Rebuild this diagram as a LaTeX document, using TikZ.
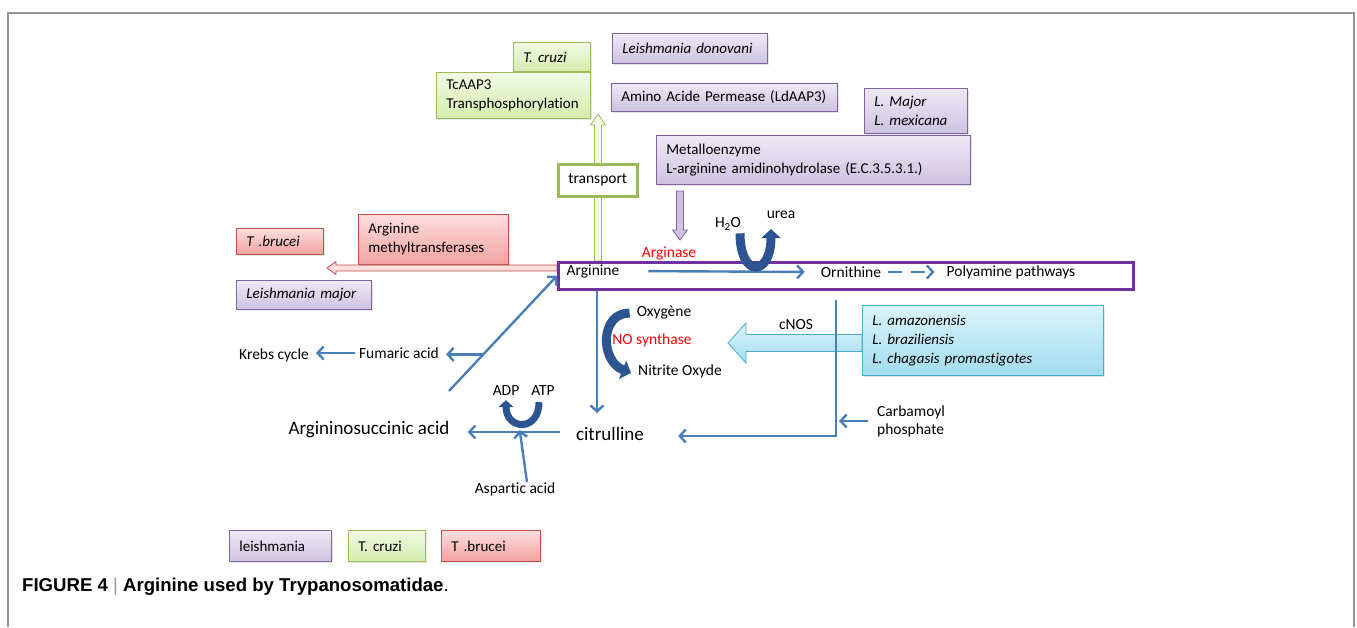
\documentclass[tikz,border=0pt]{standalone}
\usepackage{fontspec}
\setmainfont{Carlito}[Ligatures=NoCommon]
\newfontfamily\capfont{Liberation Sans}
\usepackage{tikz}
\usetikzlibrary{arrows.meta,calc,shadows}

\definecolor{flowblue}{RGB}{74,126,187}
\definecolor{curlblue}{RGB}{44,84,145}
\definecolor{argpurple}{RGB}{112,48,160}
\definecolor{leishdraw}{RGB}{128,100,162}
\definecolor{leishtop}{RGB}{238,233,246}
\definecolor{leishbot}{RGB}{206,194,224}
\definecolor{cruzidraw}{RGB}{155,187,89}
\definecolor{cruzitop}{RGB}{242,250,228}
\definecolor{cruzibot}{RGB}{212,236,174}
\definecolor{bruceidraw}{RGB}{192,80,77}
\definecolor{bruceitop}{RGB}{255,222,222}
\definecolor{bruceibot}{RGB}{242,162,160}
\definecolor{nosdraw}{RGB}{75,172,198}
\definecolor{nostop}{RGB}{218,243,251}
\definecolor{nosbot}{RGB}{162,221,240}
\definecolor{framegray}{RGB}{150,150,150}

\tikzset{
  box/.style={anchor=north west, align=left, inner xsep=10pt, inner ysep=0pt, line width=0.8pt,
    drop shadow={opacity=0.2, shadow xshift=1.5pt, shadow yshift=-1.5pt},
    font=\fontsize{15}{19}\selectfont},
  leish/.style={box, draw=leishdraw, top color=leishtop, bottom color=leishbot},
  cruzi/.style={box, draw=cruzidraw, top color=cruzitop, bottom color=cruzibot},
  brucei/.style={box, draw=bruceidraw, top color=bruceitop, bottom color=bruceibot},
  nos/.style={box, draw=nosdraw, top color=nostop, bottom color=nosbot},
  lbl/.style={font=\fontsize{15.5}{18}\selectfont, inner sep=1pt},
  biglbl/.style={font=\fontsize{19}{22}\selectfont, inner sep=1pt},
  redlbl/.style={inner sep=1pt, text=red, font=\fontsize{15.5}{18}\selectfont},
  flow/.style={draw=flowblue, line width=2.4pt, -{Straight Barb[length=6pt,width=13pt]}},
  curl/.style={draw=curlblue, line width=9pt, -{Triangle[length=9pt,width=19pt]}},
}

\begin{document}
\begin{tikzpicture}[x=1pt,y=-1pt]
\useasboundingbox (0,0) rectangle (1357,627);
\draw[framegray, line width=1.5pt] (8,627) -- (8,13) -- (1354,13) -- (1354,627); % frame

% hollow arrows first, boxes on top
\coordinate (gtail) at (598,261);
\coordinate (gtip) at (598,114);
\draw[cruzidraw, fill=cruzitop, line width=0.8pt] ($(gtail)+(-3.5,0)$) -- ($(gtip)+(-3.5,11)$) -- ($(gtip)+(-7.5,11)$) -- (gtip)
  -- ($(gtip)+(7.5,11)$) -- ($(gtip)+(3.5,11)$) -- ($(gtail)+(3.5,0)$) -- cycle; % transport
\coordinate (ptail) at (680,191);
\coordinate (ptip) at (680,240);
\draw[leishdraw, fill=leishbot, line width=0.8pt] ($(ptail)+(-3.5,0)$) -- ($(ptip)+(-3.5,-10)$) -- ($(ptip)+(-7.5,-10)$) -- (ptip)
  -- ($(ptip)+(7.5,-10)$) -- ($(ptip)+(3.5,-10)$) -- ($(ptail)+(3.5,0)$) -- cycle; % arginase
\coordinate (rtail) at (557,268);
\coordinate (rtip) at (327,268);
\draw[bruceidraw, fill=bruceitop, line width=0.8pt] ($(rtail)+(0,-3)$) -- ($(rtip)+(9,-3)$) -- ($(rtip)+(9,-6.5)$) -- (rtip)
  -- ($(rtip)+(9,6.5)$) -- ($(rtip)+(9,3)$) -- ($(rtail)+(0,3)$) -- cycle; % methyltransferases
\coordinate (ctail) at (862,343);
\coordinate (ctip) at (728,343);
\draw[nosdraw, top color=nostop, bottom color=nosbot, line width=0.8pt] ($(ctail)+(0,-8.5)$) -- ($(ctip)+(18,-8.5)$) -- ($(ctip)+(18,-20)$) -- (ctip)
  -- ($(ctip)+(18,20)$) -- ($(ctip)+(18,8.5)$) -- ($(ctail)+(0,8.5)$) -- cycle; % cNOS

% boxes
\node[cruzi, text width=57, minimum height=29] (tcruzitop) at (513,42) {\textit{T. cruzi}};
\node[cruzi, text width=134, minimum height=46] (tcaap) at (436,72) {TcAAP3\\Transphosphorylation};
\node[leish, text width=135, minimum height=30] (ldonovani) at (612,33) {\textit{Leishmania donovani}};
\node[leish, text width=206, minimum height=28] (ldaap) at (611,83) {Amino Acide Permease (LdAAP3)};
\node[leish, text width=83, minimum height=45] (lmajmex) at (864,88) {\textit{L. Major}\\\textit{L. mexicana}};
\node[leish, text width=294, minimum height=49] (metallo) at (656,135) {Metalloenzyme\\L-arginine amidinohydrolase (E.C.3.5.3.1.)};
\node[draw=cruzidraw, fill=white, line width=2.5pt, anchor=north west, minimum width=79, minimum height=32, lbl] (transport) at (557,163) {transport};
\node[brucei, text width=67, minimum height=26] (tbrucei) at (236,228) {\textit{T .brucei}};
\node[brucei, text width=130, minimum height=50] (methyl) at (358,214) {Arginine\\methyltransferases};
\node[leish, text width=115, minimum height=29] (lmajor) at (236,280) {\textit{Leishmania major}};
\node[nos, text width=221, minimum height=70] (lnos) at (862,305) {\textit{L. amazonensis}\\\textit{L. braziliensis}\\\textit{L. chagasis promastigotes}};
\node[draw=argpurple, line width=2.5pt, anchor=north west, minimum width=575, minimum height=27, inner sep=0pt] (argbox) at (557,261) {};

% legend
\node[leish, text width=82, minimum height=31] (legleish) at (229,530) {leishmania};
\node[cruzi, text width=57, minimum height=31] (legcruzi) at (348,530) {T. cruzi};
\node[brucei, text width=79, minimum height=31] (legbrucei) at (441,530) {T .brucei};

% labels
\node[lbl] (arginine) at (593,271) {Arginine};
\node[redlbl] (arginase) at (669,253) {Arginase};
\node[lbl] (h2o) at (728,224) {H\textsubscript{2}O};
\node[lbl] (urea) at (781,215) {urea};
\node[lbl] (ornithine) at (851,272) {Ornithine};
\node[lbl] (polyamine) at (1011,272) {Polyamine pathways};
\node[lbl] (oxygene) at (664,313) {Oxygène};
\node[redlbl] (nosynth) at (652,340) {NO synthase};
\node[lbl] (nitrite) at (680,371) {Nitrite Oxyde};
\node[lbl] (cnos) at (796,325) {cNOS};
\node[biglbl] (citrulline) at (610,434) {citrulline};
\node[biglbl] (asucc) at (369,430) {Argininosuccinic acid};
\node[lbl] (adp) at (506,391) {ADP};
\node[lbl] (atp) at (543,391) {ATP};
\node[lbl] (aspartic) at (515,489) {Aspartic acid};
\node[lbl] (fumaric) at (399,353) {Fumaric acid};
\node[lbl] (krebs) at (274,355) {Krebs cycle};
\node[lbl, align=left, anchor=west] (carbamoyl) at (876,421) {Carbamoyl\\phosphate};

% pathway
\draw[flow, shorten <=28pt, shorten >=15pt] (arginine.east) -- (ornithine.west);
\draw[flow, dash pattern=on 14pt off 9pt, shorten <=6pt, shorten >=11pt] (ornithine.east) -- (polyamine.west);
\coordinate (citin) at (597,413);
\draw[flow] (argbox.south -| citin) -- (citin);
\coordinate (corner) at (836,436);
\draw[flow, shorten <=9pt, shorten >=33pt] (argbox.south -| corner) -- (corner) -- (citrulline.east |- corner);
\draw[flow, shorten <=8pt, shorten >=3pt] (carbamoyl.west) -- (carbamoyl.west -| corner);
\coordinate (junction) at (520,432);
\draw[flow, shorten <=15pt, shorten >=17pt] (citrulline.west |- junction) -- (asucc.east |- junction);
\draw[flow, shorten >=-2pt] ([xshift=12pt,yshift=-1pt]aspartic.north) -- (junction);
\coordinate (dtail) at (449,391);
\draw[flow] (dtail) -- coordinate[pos=0.318] (fumbr) (argbox.west);
\draw[flow, shorten >=6pt] (fumbr) -- (fumaric.east |- fumbr);
\draw[flow, shorten <=3pt, shorten >=6pt] (fumaric.west) -- (krebs.east |- fumaric.west);

% curled arrows
\draw[curl] ([xshift=12pt,yshift=-2pt]h2o.south) .. controls +(0,45) and +(0,48) .. ([xshift=-10pt,yshift=-9pt]urea.south);
\draw[curl] ([xshift=-6pt]oxygene.west) .. controls +(-30,0) and +(-31,-12) .. ([xshift=-6pt,yshift=-2pt]nitrite.west);
\draw[curl, line width=7pt, -{Triangle[length=7pt,width=15pt]}] ([xshift=-4pt,yshift=-5pt]atp.south) .. controls +(0,30) and +(0,30) .. ([yshift=-3pt]adp.south);

\node[anchor=base west, inner sep=0pt, font=\capfont\fontsize{18.6}{21}\selectfont] (caption) at (22,591)
  {\textbf{FIGURE 4} {\color{framegray}|} \textbf{Arginine used by Trypanosomatidae}.};
\end{tikzpicture}
\end{document}
